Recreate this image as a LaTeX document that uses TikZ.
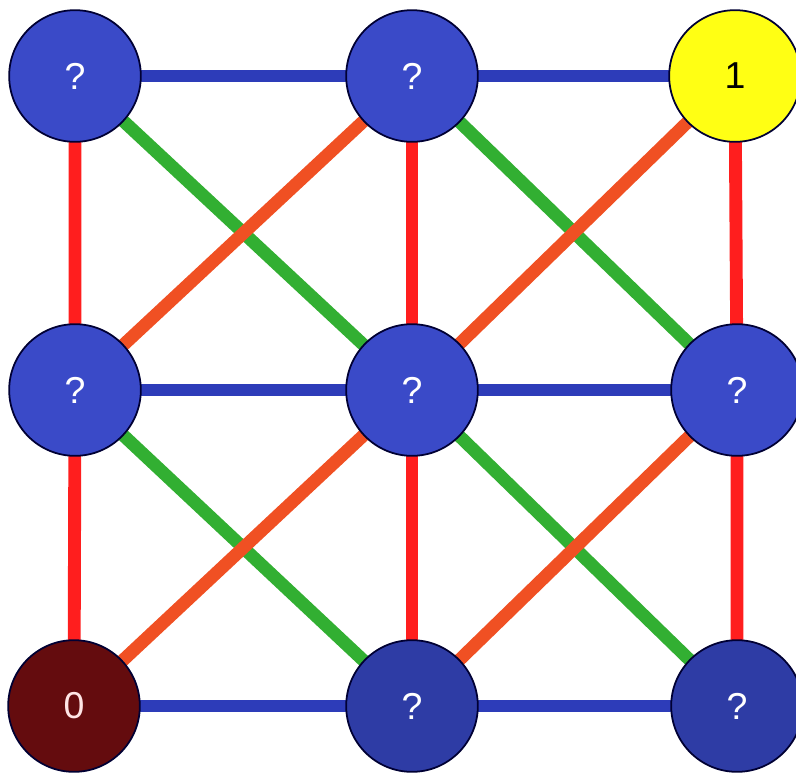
\documentclass[tikz,border=0pt]{standalone}
\usepackage{fontspec}
\setmainfont{Liberation Sans}
\usepackage{tikz}
\usetikzlibrary{backgrounds}
\definecolor{qblock}{RGB}{58, 74, 200}
\definecolor{qdblock}{RGB}{46, 60, 165}
\definecolor{oneblock}{RGB}{255, 255, 20}
\definecolor{zeroblock}{RGB}{100, 12, 14}
\definecolor{hedge}{RGB}{45, 60, 185}
\definecolor{vedge}{RGB}{255, 30, 30}
\definecolor{gedge}{RGB}{50, 175, 50}
\definecolor{oedge}{RGB}{240, 80, 35}

\begin{document}
\begin{tikzpicture}[x=0.03cm, y=-0.03cm,
		cell/.style={circle, draw=black!80!blue, line width=1.5pt, minimum size=3.95cm, inner sep=0pt, font=\fontsize{32}{36}\selectfont},
		qcell/.style={cell, fill=qblock, text=white},
		qdcell/.style={cell, fill=qdblock, text=white},
		hline/.style={hedge, line width=9.5pt},
		vline/.style={vedge, line width=11pt},
		gline/.style={gedge, line width=11pt},
		oline/.style={oedge, line width=11pt}]
		\useasboundingbox (0,0) rectangle (796,775);

		% top row
		\node[qcell] (a1) at (75, 76) {?};
		\node[qcell] (a2) at (412, 76) {?};
		\node[cell, fill=oneblock] (a3) at (735, 76) {1};

		% middle row
		\node[qcell] (b1) at (75, 390) {?};
		\node[qcell] (b2) at (412, 390) {?};
		\node[qcell] (b3) at (737, 390) {?};

		% bottom row
		\node[cell, fill=zeroblock, text=red!10] (c1) at (74, 706) {0};
		\node[qdcell] (c2) at (412, 706) {?};
		\node[qdcell] (c3) at (737, 706) {?};

		\begin{scope}[on background layer]
			\draw[hline] (a1.center) -- (a2.center) -- (a3.center);
			\draw[hline] (b1.center) -- (b2.center) -- (b3.center);
			\draw[hline] (c1.center) -- (c2.center) -- (c3.center);

			\draw[vline] (a1.center) -- (b1.center) -- (c1.center);
			\draw[vline] (a2.center) -- (b2.center) -- (c2.center);
			\draw[vline] (a3.center) -- (b3.center) -- (c3.center);

			\draw[gline] (a1.center) -- (b2.center) -- (c3.center);
			\draw[gline] (a2.center) -- (b3.center);
			\draw[gline] (b1.center) -- (c2.center);

			\draw[oline] (c1.center) -- (b2.center) -- (a3.center);
			\draw[oline] (b1.center) -- (a2.center);
			\draw[oline] (c2.center) -- (b3.center);
		\end{scope}
	\end{tikzpicture}
\end{document}
